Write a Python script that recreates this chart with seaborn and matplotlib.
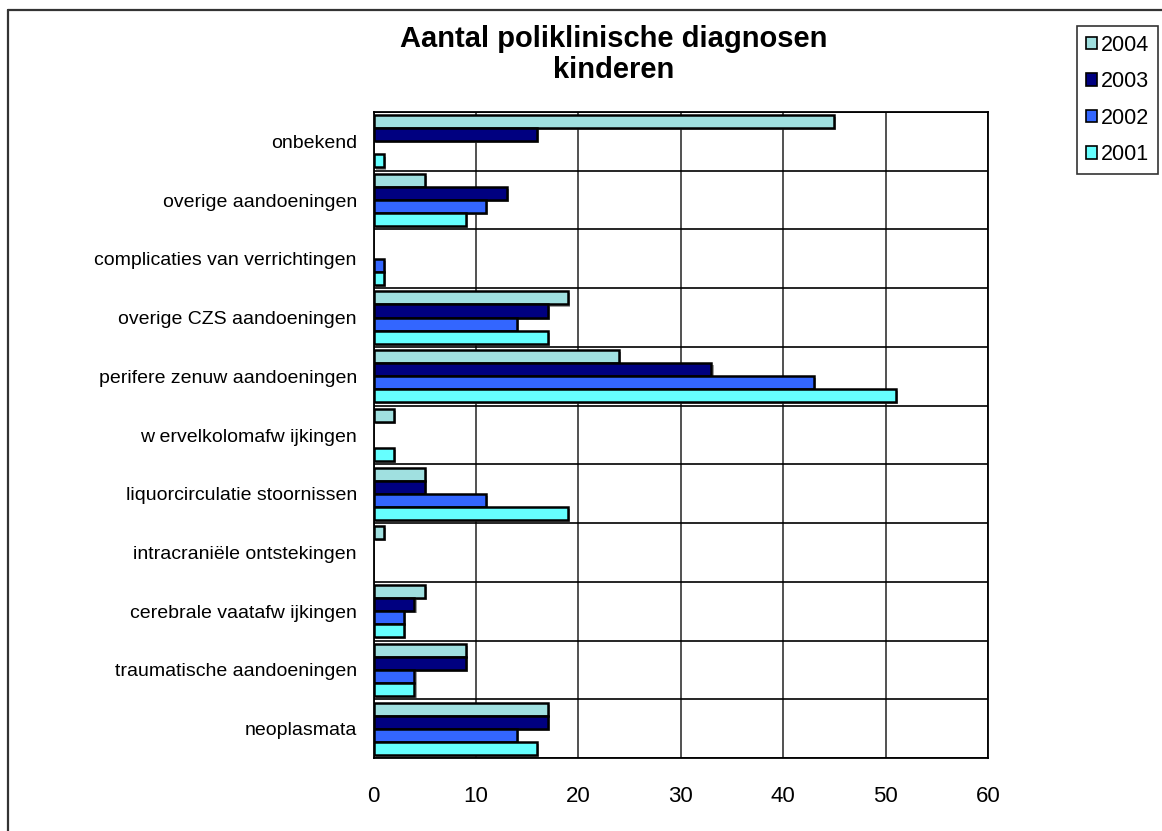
import matplotlib
matplotlib.use("Agg")
import matplotlib.pyplot as plt
import matplotlib.patheffects as pe
from matplotlib.lines import Line2D
from matplotlib.patches import Patch
import numpy as np
import pandas as pd
import seaborn as sns

# Diagnosis categories (top to bottom)
categories = [
    "onbekend",
    "overige aandoeningen",
    "complicaties van verrichtingen",
    "overige CZS aandoeningen",
    "perifere zenuw aandoeningen",
    "w ervelkolomafw ijkingen",
    "liquorcirculatie stoornissen",
    "intracraniële ontstekingen",
    "cerebrale vaatafw ijkingen",
    "traumatische aandoeningen",
    "neoplasmata",
]
years = ["2004", "2003", "2002", "2001"]
v2004 = [45, 5, 0, 19, 24, 2, 5, 1, 5, 9, 17]
v2003 = [16, 13, 0, 17, 33, 0, 5, 0, 4, 9, 17]
v2002 = [0, 11, 1, 14, 43, 0, 11, 0, 3, 4, 14]
v2001 = [1, 9, 1, 17, 51, 2, 19, 0, 3, 4, 16]
xticks = [0, 10, 20, 30, 40, 50, 60]

colors = {"2004": "#A0E0E0", "2003": "#000080", "2002": "#3366FF", "2001": "#66FFFF"}

series = {"2004": v2004, "2003": v2003, "2002": v2002, "2001": v2001}
df = pd.DataFrame(
    [(c, y, series[y][i]) for y in years for i, c in enumerate(categories)],
    columns=["categorie", "jaar", "aantal"],
)

sns.set_theme(style="white")
plt.rcParams["font.family"] = ["Liberation Sans", "DejaVu Sans"]
plt.rcParams["text.color"] = "black"
plt.rcParams["xtick.color"] = "black"
plt.rcParams["ytick.color"] = "black"
plt.rcParams["axes.labelcolor"] = "black"

fig = plt.figure(figsize=(11.62, 8.31), dpi=100)
fig.patch.set_facecolor("white")
W, H = 1162, 831
x0, x1, y0, y1 = 373.5, 988, 112, 758
ax = fig.add_axes([x0 / W, 1 - y1 / H, (x1 - x0) / W, (y1 - y0) / H])

sns.barplot(
    data=df, y="categorie", x="aantal", hue="jaar",
    order=categories, hue_order=years, palette=colors,
    orient="h", width=0.89, edgecolor="black", linewidth=1.8,
    saturation=1, legend=False, ax=ax, errorbar=None,
)

shadow = [pe.SimplePatchShadow(offset=(1.5, -1.5), shadow_rgbFace="#777777", alpha=0.7), pe.Normal()]
for p in ax.patches:
    if p.get_width() > 0:
        p.set_path_effects(shadow)
    else:
        p.set_visible(False)

ax.set_xlim(0, 60)
ax.set_ylim(len(categories) - 0.5, -0.5)
ax.set_xticks(xticks)
ax.set_xticklabels([str(t) for t in xticks], fontsize=16)
ax.set_xlabel("")
ax.set_ylabel("")
ax.tick_params(axis="y", which="major", length=0, labelsize=14, pad=12)
ax.set_yticks(np.arange(len(categories) + 1) - 0.5, minor=True)
ax.tick_params(axis="y", which="minor", length=6, width=1.2, color="black", direction="out")
ax.tick_params(axis="x", which="major", length=7, width=1.2, color="black", direction="out", pad=13)

ax.set_axisbelow(True)
ax.grid(axis="x", which="major", color="#333333", linewidth=1.2)
ax.grid(axis="y", which="minor", color="black", linewidth=1.2)
ax.grid(axis="y", which="major", visible=False)
for s in ax.spines.values():
    s.set_visible(True)
    s.set_color("black")
    s.set_linewidth(1.3)

fig.text(614 / W, 1 - 25 / H, "Aantal poliklinische diagnosen\nkinderen",
         ha="center", va="top", fontsize=21, fontweight="bold", linespacing=1.15)

handles = [Patch(facecolor=colors[y], edgecolor="black", linewidth=1.2) for y in years]
leg = fig.legend(handles, years, loc="upper right",
                 bbox_to_anchor=(1158 / W, 1 - 26 / H), fontsize=15.5,
                 frameon=True, fancybox=False, edgecolor="black",
                 handlelength=0.5, handleheight=0.5, handletextpad=0.2,
                 labelspacing=0.72, borderpad=0.4, borderaxespad=0)
leg.get_frame().set_linewidth(1.2)

# outer chart-area border
fig.add_artist(Line2D([8 / W, 8 / W], [-0.1, 1 - 10 / H], color="#333333", linewidth=1.6))
fig.add_artist(Line2D([8 / W, 1.1], [1 - 10 / H, 1 - 10 / H], color="#333333", linewidth=1.6))

fig.savefig("out.png", dpi=100, facecolor="white")
